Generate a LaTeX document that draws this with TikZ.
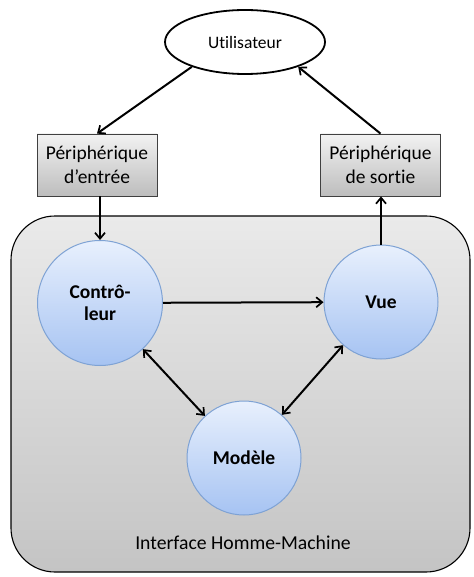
\documentclass[tikz,border=0pt]{standalone}
\usepackage{fontspec}
\setmainfont[Ligatures=NoCommon]{Carlito}
\usetikzlibrary{shapes.geometric,arrows.meta,calc}
\definecolor{boxtop}{HTML}{F2F2F2}
\definecolor{boxbot}{HTML}{BDBDBD}
\definecolor{bigtop}{HTML}{EAEAEA}
\definecolor{bigbot}{HTML}{C4C4C4}
\definecolor{circtop}{HTML}{E8F0FD}
\definecolor{circbot}{HTML}{A6C3F2}
\definecolor{circline}{HTML}{7EA2D4}
\tikzset{
  devbox/.style={draw=black!75, line width=0.8pt, top color=boxtop, bottom color=boxbot,
    minimum width=120pt, minimum height=62pt, align=center, inner sep=0pt,
    font=\fontsize{19.5}{24}\selectfont},
  comp/.style={circle, draw=circline, line width=1pt, top color=circtop, bottom color=circbot,
    align=center, inner sep=0pt, font=\fontsize{19.5}{22}\selectfont\bfseries},
  arr/.style={line width=2pt, -{Straight Barb[length=6pt,width=10pt,line width=1.7pt]}},
  darr/.style={line width=2pt, {Straight Barb[length=6pt,width=10pt,line width=1.7pt]}-{Straight Barb[length=6pt,width=10pt,line width=1.7pt]}}
}
\begin{document}
\begin{tikzpicture}[x=1pt,y=-1pt]
\path[use as bounding box] (0,0) rectangle (473,577);
% container
\node[draw=black, line width=1.1pt, rounded corners=44pt, top color=bigtop, bottom color=bigbot,
  minimum width=459pt, minimum height=356pt, inner sep=0pt] (ihm) at (240.5,394) {};
\node[font=\fontsize{19.7}{24}\selectfont] (ihmlabel) at (243,543) {Interface Homme-Machine};
% user
\node[ellipse, draw=black, line width=1.8pt, fill=white, minimum width=160pt, minimum height=64pt,
  inner sep=0pt, font=\fontsize{17.5}{20}\selectfont] (user) at (245,42) {Utilisateur};
% devices
\node[devbox] (lbox) at (97,165) {Périphérique\\d’entrée};
\node[devbox] (rbox) at (380.5,165) {Périphérique\\de sortie};
% components
\node[comp, minimum size=125pt] (ctrl) at (100,303) {Contrô-\\leur};
\node[comp, minimum size=114pt] (vue) at (381,302) {Vue};
\node[comp, minimum size=114pt] (mod) at (244,458) {Modèle};
% connectors
\draw[arr] (user.205) -- (lbox.north);
\draw[arr] (rbox.north) -- (user.-25);
\draw[arr] (lbox.south -| ctrl.north) -- (ctrl.north);
\draw[arr] (vue.north) -- (rbox.south -| vue.north);
\draw[arr] (ctrl) -- (vue);
\draw[darr] (ctrl) -- (mod);
\draw[darr] (vue) -- (mod);
\end{tikzpicture}
\end{document}
